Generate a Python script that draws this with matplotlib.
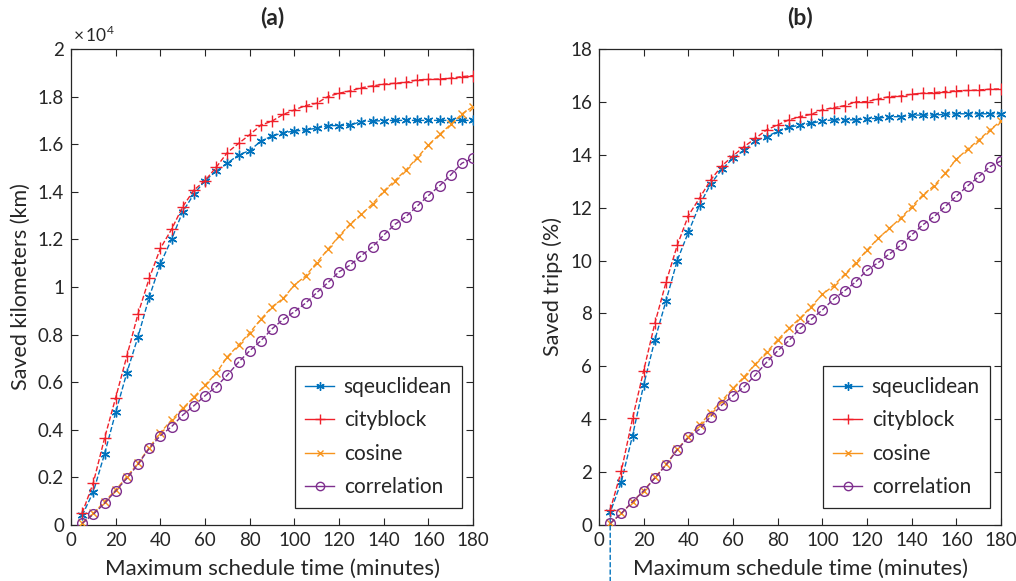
import numpy as np
import matplotlib
matplotlib.use('Agg')
import matplotlib.pyplot as plt
from matplotlib.lines import Line2D
from matplotlib.ticker import FuncFormatter, MultipleLocator

plt.rcParams['font.family'] = ['Lato', 'DejaVu Sans']
plt.rcParams['mathtext.fontset'] = 'custom'
plt.rcParams['mathtext.rm'] = 'Lato'

# schedule time (minutes)
x = list(range(5, 181, 5))

# (a) saved kilometers (km)
a_sqeuclidean = [400, 1400, 2980, 4730, 6400, 7910, 9570, 10970, 12000, 13160,
                 13900, 14470, 14870, 15200, 15550, 15730, 16130, 16340, 16480, 16550,
                 16600, 16670, 16780, 16780, 16800, 16950, 16970, 16990, 17000, 17000,
                 17000, 17000, 17000, 17000, 17000, 17000]
a_cityblock = [500, 1780, 3640, 5350, 7100, 8870, 10360, 11620, 12420, 13370,
               14070, 14470, 15030, 15650, 16030, 16400, 16800, 16970, 17250, 17440,
               17620, 17720, 18000, 18140, 18240, 18370, 18450, 18520, 18560, 18600,
               18700, 18720, 18740, 18770, 18840, 18880]
a_cosine = [100, 490, 980, 1470, 2030, 2590, 3250, 3880, 4410, 4900,
            5370, 5880, 6370, 7070, 7560, 8080, 8640, 9170, 9520, 10080,
            10460, 11020, 11580, 12140, 12650, 13050, 13490, 14030, 14470, 14920,
            15430, 15970, 16410, 16830, 17270, 17580]
a_correlation = [70, 450, 910, 1430, 1960, 2550, 3220, 3750, 4130, 4620,
                 5010, 5430, 5810, 6300, 6840, 7320, 7740, 8240, 8640, 8960,
                 9320, 9760, 10180, 10640, 10920, 11320, 11690, 12180, 12630, 12960,
                 13400, 13840, 14250, 14710, 15200, 15410]

# (b) saved trips (%)
b_sqeuclidean = [0.48, 1.64, 3.38, 5.30, 7.00, 8.48, 10.0, 11.07, 12.10, 12.9,
                 13.45, 13.87, 14.18, 14.52, 14.69, 14.88, 15.04, 15.12, 15.19, 15.28,
                 15.32, 15.32, 15.32, 15.36, 15.38, 15.44, 15.44, 15.50, 15.50, 15.50,
                 15.53, 15.55, 15.55, 15.55, 15.55, 15.55]
b_cityblock = [0.57, 2.05, 4.03, 5.84, 7.63, 9.18, 10.57, 11.70, 12.36, 13.05,
               13.58, 13.96, 14.31, 14.62, 14.94, 15.13, 15.32, 15.44, 15.53, 15.70,
               15.78, 15.86, 16.0, 16.01, 16.11, 16.20, 16.22, 16.29, 16.33, 16.35,
               16.39, 16.42, 16.43, 16.45, 16.48, 16.49]
b_cosine = [0.06, 0.44, 0.88, 1.30, 1.80, 2.29, 2.86, 3.34, 3.78, 4.25,
            4.70, 5.17, 5.61, 6.09, 6.53, 7.00, 7.44, 7.82, 8.26, 8.72,
            9.05, 9.48, 9.92, 10.40, 10.84, 11.22, 11.60, 12.04, 12.48, 12.83,
            13.30, 13.83, 14.21, 14.56, 14.94, 15.28]
b_correlation = [0.06, 0.44, 0.88, 1.29, 1.77, 2.27, 2.84, 3.31, 3.62, 4.10,
                 4.54, 4.89, 5.23, 5.67, 6.15, 6.59, 6.97, 7.44, 7.78, 8.13,
                 8.54, 8.86, 9.20, 9.64, 9.92, 10.25, 10.57, 10.97, 11.35, 11.66,
                 12.04, 12.44, 12.82, 13.17, 13.55, 13.77]
# stray first sample of the blue curve in (b), runs off the bottom
b_sq_start = -4.0

names = ['sqeuclidean', 'cityblock', 'cosine', 'correlation']
colors = ['#0072BD', '#F0202A', '#F7941D', '#7E2F8E']
markers = [(6, 2, 0), '+', 'x', 'o']
msizes = [7, 8.5, 6, 7]
txt = '#262626'


def style_axes(ax):
    ax.set_xlim(0, 180)
    ax.xaxis.set_major_locator(MultipleLocator(20))
    ax.tick_params(direction='in', top=True, right=True, length=5, width=0.8,
                   labelsize=13.5, colors=txt, pad=5)
    for s in ax.spines.values():
        s.set_color(txt)
        s.set_linewidth(0.9)
    ax.set_xlabel('Maximum schedule time (minutes)', fontsize=16, color=txt, labelpad=7)


def draw(ax, series, first=None):
    for i, ys in enumerate(series):
        xs, yy, me = x, ys, None
        if i == 0 and first is not None:
            xs = [x[0]] + x
            yy = [first] + ys
            me = list(range(1, len(yy)))
        ax.plot(xs, yy, linestyle='--', linewidth=1, color=colors[i], marker=markers[i],
                markersize=msizes[i], markerfacecolor='none', markeredgewidth=1,
                markevery=me, clip_on=(first is None or i != 0), zorder=3 + i)
    handles = [Line2D([], [], color=colors[i], linewidth=1, marker=markers[i],
                      markersize=msizes[i] - 1, markerfacecolor='none')
               for i in range(4)]
    leg = ax.legend(handles, names, loc='lower right', bbox_to_anchor=(0.973, 0.036),
                    borderaxespad=0, fontsize=15, frameon=True, fancybox=False,
                    framealpha=1, edgecolor=txt, handlelength=1.4, handletextpad=0.45,
                    labelspacing=0.65, borderpad=0.5, labelcolor=txt)
    leg.get_frame().set_linewidth(0.9)


fig = plt.figure(figsize=(10.16, 5.81), dpi=100)
ax1 = fig.add_axes([0.0699, 0.0964, 0.3957, 0.8193])
ax2 = fig.add_axes([0.5896, 0.0964, 0.3957, 0.8193])

draw(ax1, [a_sqeuclidean, a_cityblock, a_cosine, a_correlation])
style_axes(ax1)
ax1.set_ylim(0, 20000)
ax1.yaxis.set_major_locator(MultipleLocator(2000))
ax1.yaxis.set_major_formatter(FuncFormatter(lambda v, p: f'{v / 1e4:g}'))
ax1.set_ylabel('Saved kilometers (km)', fontsize=15.5, color=txt, labelpad=5)
ax1.text(0.005, 1.008, r'$\times\,10^{4}$', transform=ax1.transAxes, fontsize=12.5,
         color=txt, ha='left', va='bottom')
ax1.set_title('(a)', fontsize=16.5, fontweight='bold', color=txt, pad=18)

draw(ax2, [b_sqeuclidean, b_cityblock, b_cosine, b_correlation], first=b_sq_start)
style_axes(ax2)
ax2.set_ylim(0, 18)
ax2.yaxis.set_major_locator(MultipleLocator(2))
ax2.set_ylabel('Saved trips (%)', fontsize=15.5, color=txt, labelpad=5)
ax2.set_title('(b)', fontsize=16.5, fontweight='bold', color=txt, pad=18)

fig.savefig('out.png', dpi=100)
